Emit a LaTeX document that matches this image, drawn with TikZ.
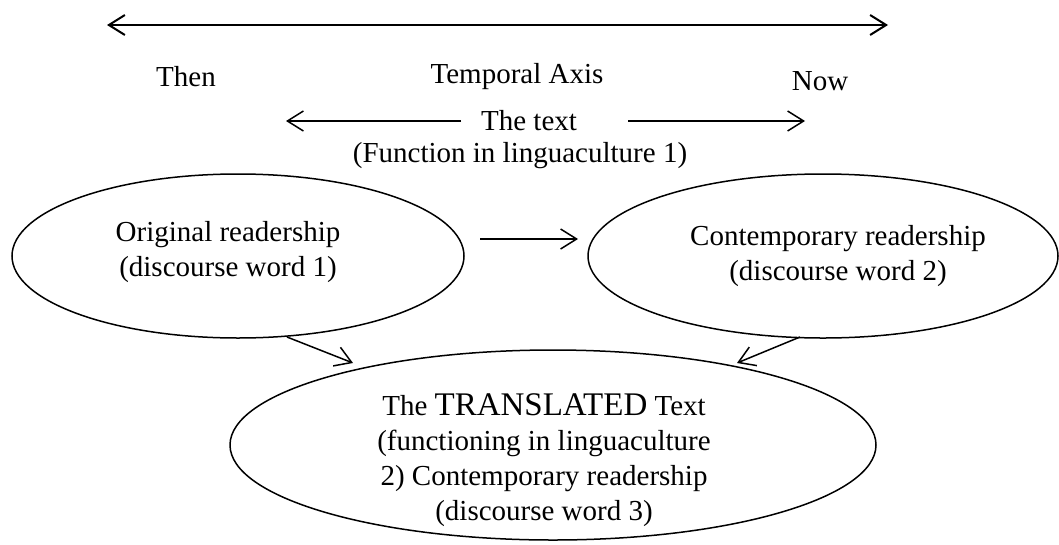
\documentclass[tikz,border=0pt]{standalone}
\usepackage{fontspec}
\setmainfont{Liberation Serif}
\usetikzlibrary{shapes.geometric,arrows.meta}
\begin{document}
\begin{tikzpicture}[x=1pt,y=-1pt,
  txt/.style={font=\fontsize{29}{35}\selectfont, inner sep=0pt, align=center, anchor=center},
  oval/.style={draw, ellipse, line width=1.5pt, inner sep=0pt},
  arr/.style={line width=1.5pt, -{Straight Barb[length=16pt,width=20pt,line width=1.5pt]}},
  bigarr/.style={line width=2pt, {Straight Barb[length=16pt,width=20pt,line width=2pt]}-{Straight Barb[length=16pt,width=20pt,line width=2pt]}}]
\useasboundingbox (0,0) rectangle (1059,544);
% temporal axis
\coordinate (tl) at (107,25);
\coordinate (tr) at (888,25);
\draw[bigarr] (tl) -- (tr);
\node[txt] (then) at (186,77) {Then};
\node[txt] (axis) at (517,77) {Temporal Axis};
\node[txt] (now) at (820,81) {Now};
% the text
\node[txt] (thetext) at (529,121) {The text};
\node[txt] (func) at (520,156) {(Function in linguaculture 1)};
\coordinate (la) at (286,121);
\coordinate (ls) at (461,121);
\coordinate (rs) at (628,121);
\coordinate (ra) at (805,121);
\draw[arr] (ls) -- (la);
\draw[arr] (rs) -- (ra);
% ellipses
\node[oval, minimum width=452pt, minimum height=164pt] (orig) at (238,256) {};
\node[oval, minimum width=470pt, minimum height=164pt] (contemp) at (823,256) {};
\node[oval, minimum width=646pt, minimum height=190pt] (trans) at (553,445) {};
\node[txt] (origt) at (228,252) {Original readership\\(discourse word 1)};
\node[txt] (contt) at (838,256) {Contemporary readership\\(discourse word 2)};
\node[txt] (transt) at (544,460) {The {\fontsize{33}{35}\selectfont TRANSLATED} Text\\(functioning in linguaculture\\2) Contemporary readership\\(discourse word 3)};
% connectors
\coordinate (m1) at (480,239);
\coordinate (m2) at (578,239);
\draw[arr] (m1) -- (m2);
\coordinate (d1s) at (287,337);
\coordinate (d1e) at (353,363);
\coordinate (d2s) at (800,337);
\coordinate (d2e) at (737,363);
\draw[arr] (d1s) -- (d1e);
\draw[arr] (d2s) -- (d2e);
\end{tikzpicture}
\end{document}
